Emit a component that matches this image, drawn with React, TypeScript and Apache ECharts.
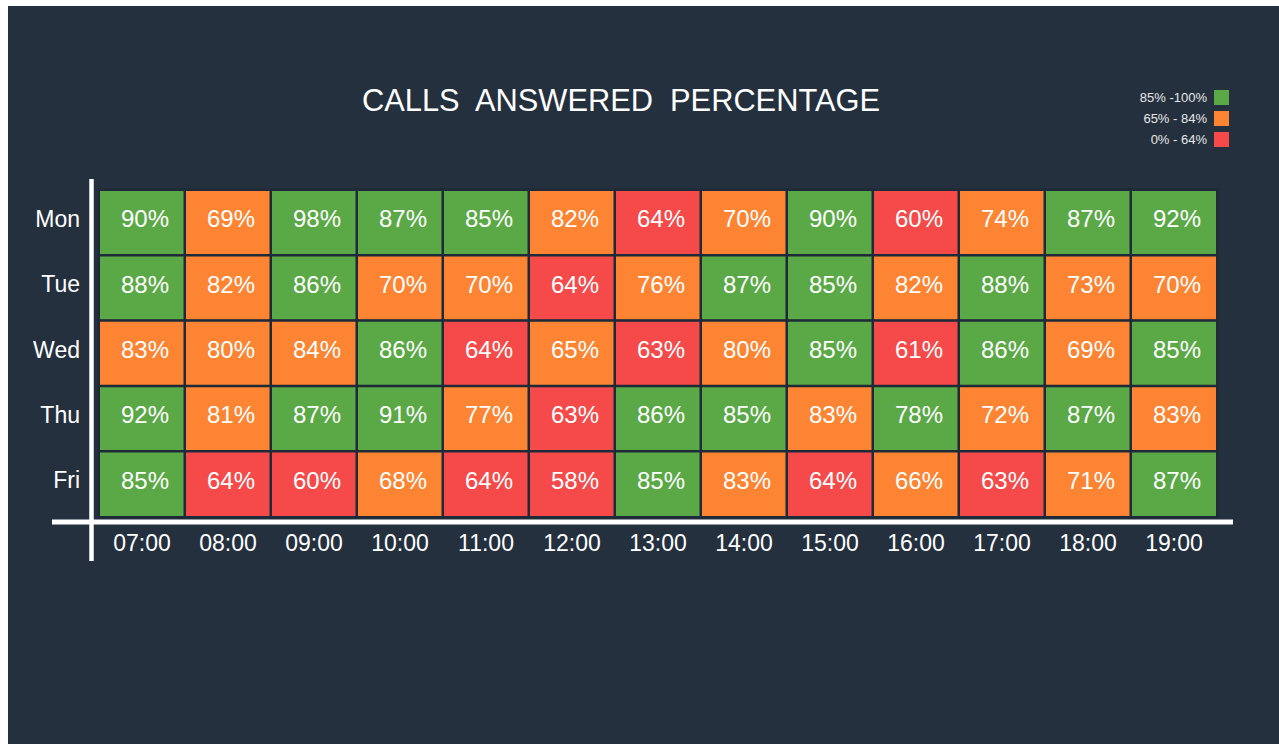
import React, { useEffect, useRef } from "react";
import * as echarts from "echarts";

const hours = ["07:00", "08:00", "09:00", "10:00", "11:00", "12:00", "13:00", "14:00", "15:00", "16:00", "17:00", "18:00", "19:00"];
const days = ["Mon", "Tue", "Wed", "Thu", "Fri"];

const mon = [90, 69, 98, 87, 85, 82, 64, 70, 90, 60, 74, 87, 92];
const tue = [88, 82, 86, 70, 70, 64, 76, 87, 85, 82, 88, 73, 70];
const wed = [83, 80, 84, 86, 64, 65, 63, 80, 85, 61, 86, 69, 85];
const thu = [92, 81, 87, 91, 77, 63, 86, 85, 83, 78, 72, 87, 83];
const fri = [85, 64, 60, 68, 64, 58, 85, 83, 64, 66, 63, 71, 87];
const rows = [mon, tue, wed, thu, fri];

// band colour as drawn in the picture where it differs from the thresholds
const bandOverrides = [{ day: "Thu", hour: "16:00", band: 2 }];

const bandLabels = ["0% - 64%", "65% - 84%", "85% -100%"];

const GREEN = "#5aa946";
const ORANGE = "#fd8432";
const RED = "#f64a4a";
const BG = "#25303f";
const FONT = "'Liberation Sans', Arial, Helvetica, sans-serif";

function bandOf(v: number) {
  return v >= 85 ? 2 : v >= 65 ? 1 : 0;
}

export default function App() {
  const ref = useRef<HTMLDivElement>(null);
  useEffect(() => {
    if (!ref.current) return;
    const chart = echarts.init(ref.current, undefined, { renderer: "svg" });
    const data: any[] = [];
    rows.forEach((row, y) => {
      row.forEach((v, x) => {
        let band = bandOf(v);
        const o = bandOverrides.find((b) => b.day === days[y] && b.hour === hours[x]);
        if (o) band = o.band;
        data.push([x, y, v, band]);
      });
    });
    chart.setOption({
      animation: false,
      backgroundColor: BG,
      title: {
        text: "CALLS  ANSWERED  PERCENTAGE",
        left: 354,
        top: 79,
        padding: 0,
        textStyle: { color: "#ffffff", fontSize: 30.8, fontWeight: "normal", fontFamily: FONT },
      },
      grid: { left: 91, top: 184, right: 62, bottom: 227, containLabel: false },
      xAxis: {
        type: "category",
        data: hours,
        axisLine: { show: false },
        axisTick: { show: false },
        splitLine: { show: false },
        axisLabel: { color: "#ffffff", fontSize: 23, margin: 14, fontFamily: FONT },
      },
      yAxis: {
        type: "category",
        data: days,
        inverse: true,
        axisLine: { show: false },
        axisTick: { show: false },
        splitLine: { show: false },
        axisLabel: {
          color: "#ffffff",
          fontSize: 23,
          margin: 19,
          fontFamily: FONT,
          verticalAlign: "bottom",
          lineHeight: 8,
        },
      },
      visualMap: {
        type: "piecewise",
        dimension: 3,
        seriesIndex: 0,
        orient: "vertical",
        align: "right",
        right: 50,
        top: 84,
        padding: 0,
        itemWidth: 15,
        itemHeight: 15,
        itemGap: 6,
        textGap: 7,
        itemSymbol: "rect",
        selectedMode: false,
        hoverLink: false,
        textStyle: { color: "#e6e6e6", fontSize: 13, fontFamily: FONT },
        pieces: [
          { value: 0, label: bandLabels[0], color: RED },
          { value: 1, label: bandLabels[1], color: ORANGE },
          { value: 2, label: bandLabels[2], color: GREEN },
        ],
      },
      series: [
        {
          type: "heatmap",
          data,
          itemStyle: { borderColor: "#1f2a38", borderWidth: 2.5 },
          label: {
            show: true,
            color: "#ffffff",
            fontSize: 24,
            fontFamily: FONT,
            offset: [3, -4],
            formatter: (p: any) => p.value[2] + "%",
          },
          emphasis: { disabled: true },
        },
      ],
      graphic: [
        {
          type: "line",
          shape: { x1: 83.5, y1: 173, x2: 83.5, y2: 555 },
          style: { stroke: "#ffffff", lineWidth: 4.5 },
          z: 100,
        },
        {
          type: "line",
          shape: { x1: 44, y1: 516, x2: 1225, y2: 516 },
          style: { stroke: "#ffffff", lineWidth: 5 },
          z: 100,
        },
      ],
    });
    return () => chart.dispose();
  }, []);
  return (
    <div
      ref={ref}
      style={{ position: "absolute", left: 8, top: 6, width: 1271, height: 738 }}
    />
  );
}
